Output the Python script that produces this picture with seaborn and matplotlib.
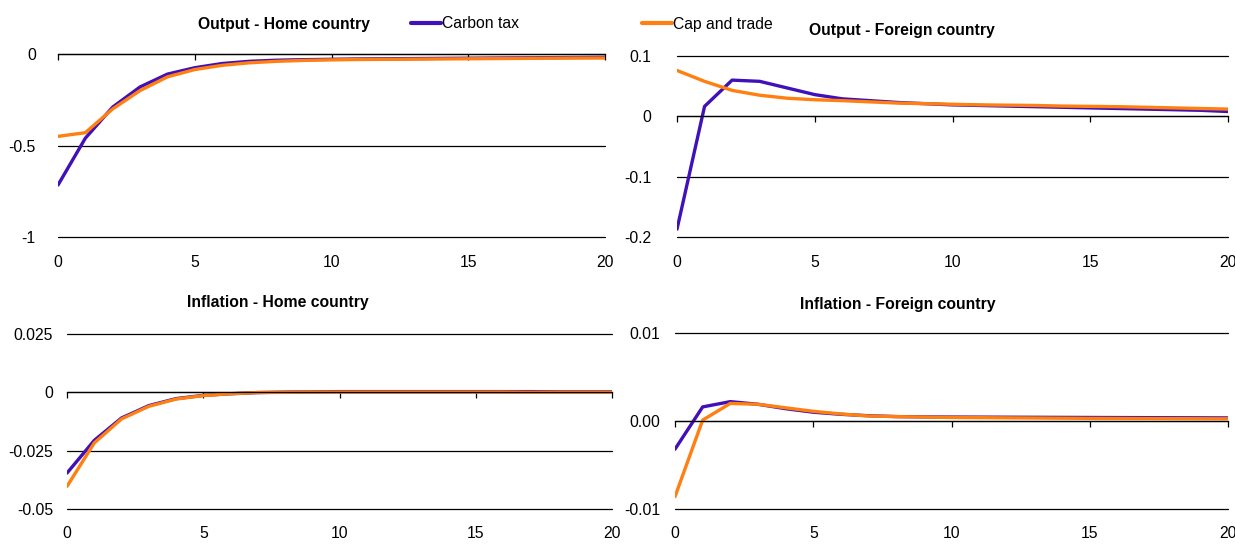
import numpy as np
import pandas as pd
import matplotlib
matplotlib.use('Agg')
import matplotlib.pyplot as plt
import seaborn as sns

sns.set_style('white')
plt.rcParams['font.family'] = ['Liberation Sans', 'DejaVu Sans']
plt.rcParams['font.size'] = 11.3
plt.rcParams['text.color'] = 'black'
plt.rcParams['xtick.color'] = 'black'
plt.rcParams['ytick.color'] = 'black'

periods = list(range(21))
policies = ['Carbon tax', 'Cap and trade']
colors = {'Carbon tax': '#4010B8', 'Cap and trade': '#FF7F10'}

# output, home country
out_home_tax = [-0.716, -0.46, -0.29, -0.18, -0.11, -0.075, -0.052, -0.04, -0.034, -0.031, -0.029,
                -0.027, -0.026, -0.025, -0.024, -0.023, -0.022, -0.021, -0.020, -0.019, -0.018]
out_home_cap = [-0.45, -0.43, -0.30, -0.20, -0.125, -0.085, -0.062, -0.048, -0.040, -0.035, -0.032,
                -0.030, -0.029, -0.028, -0.027, -0.026, -0.025, -0.024, -0.023, -0.022, -0.022]
# output, foreign country
out_for_tax = [-0.187, 0.0165, 0.060, 0.058, 0.047, 0.036, 0.029, 0.026, 0.023, 0.021, 0.019,
               0.018, 0.017, 0.016, 0.015, 0.014, 0.013, 0.012, 0.011, 0.010, 0.008]
out_for_cap = [0.076, 0.058, 0.043, 0.035, 0.030, 0.0275, 0.026, 0.024, 0.022, 0.021, 0.020,
               0.019, 0.0185, 0.018, 0.017, 0.0165, 0.016, 0.015, 0.014, 0.013, 0.012]
# inflation, home country
inf_home_tax = [-0.0346, -0.0206, -0.011, -0.0057, -0.0027, -0.0013, -0.0006, -0.0001, 0.0001, 0.0002, 0.0003,
                0.0003, 0.0003, 0.0003, 0.0003, 0.0003, 0.0003, 0.0003, 0.0002, 0.0002, 0.0002]
inf_home_cap = [-0.0403, -0.0217, -0.0114, -0.006, -0.0029, -0.0014, -0.0006, -0.0001, 0.0, 0.0001, 0.0001,
                0.0001, 0.0001, 0.0001, 0.0001, 0.0001, 0.0001, 0.0, 0.0, 0.0, 0.0]
# inflation, foreign country
inf_for_tax = [-0.0032, 0.0016, 0.0022, 0.0019, 0.0014, 0.0010, 0.00076, 0.0006, 0.0005, 0.00047, 0.00045,
               0.00044, 0.00043, 0.00042, 0.00041, 0.0004, 0.00039, 0.00038, 0.00037, 0.00036, 0.00035]
inf_for_cap = [-0.0086, 0.0001, 0.0020, 0.0019, 0.0015, 0.0011, 0.0008, 0.00057, 0.0005, 0.00045, 0.0004,
               0.00038, 0.00036, 0.00034, 0.00032, 0.0003, 0.00029, 0.00028, 0.00027, 0.00026, 0.00025]

titles = ['Output - Home country', 'Output - Foreign country',
          'Inflation - Home country', 'Inflation - Foreign country']
yticks = [[-1, -0.5, 0], [-0.2, -0.1, 0, 0.1], [-0.05, -0.025, 0, 0.025], [-0.01, 0, 0.01]]
ylabels = [['-1', '-0.5', '0'], ['-0.2', '-0.1', '0', '0.1'],
           ['-0.05', '-0.025', '0', '0.025'], ['-0.01', '0.00', '0.01']]
series = [(out_home_tax, out_home_cap), (out_for_tax, out_for_cap),
          (inf_home_tax, inf_home_cap), (inf_for_tax, inf_for_cap)]

W, H = 1235, 544
# pixel boxes: left, top, right, bottom
boxes = [(58, 54, 605, 237), (677, 56, 1228, 237), (67, 334, 612, 509), (675, 333, 1228, 509)]
title_pos = [(284, 25), (902, 30), (278, 302), (898, 304)]
ypads = [12.5, 15, 6.5, 7]
xpads = [13, 13, 12.5, 12.5]

fig = plt.figure(figsize=(W / 100, H / 100), dpi=100)

for i in range(4):
    l, t, r, b = boxes[i]
    ax = fig.add_axes([l / W, 1 - b / H, (r - l) / W, (b - t) / H])
    tax, cap = series[i]
    df = pd.DataFrame({'t': periods * 2,
                       'value': tax + cap,
                       'policy': ['Carbon tax'] * 21 + ['Cap and trade'] * 21})
    sns.lineplot(data=df, x='t', y='value', hue='policy', hue_order=policies,
                 palette=colors, linewidth=2.4, ax=ax, legend=False)
    ax.set_xlim(0, 20)
    ax.set_ylim(yticks[i][0], yticks[i][-1])
    ax.set_yticks(yticks[i])
    ax.set_yticklabels(ylabels[i])
    ax.set_xticks([0, 5, 10, 15, 20])
    for y in yticks[i]:
        ax.axhline(y, color='black', linewidth=0.9, zorder=0, clip_on=False)
    for s in ['left', 'right', 'bottom']:
        ax.spines[s].set_visible(False)
    ax.spines['top'].set_position(('data', 0))
    ax.spines['top'].set_color('black')
    ax.spines['top'].set_linewidth(0.9)
    ax.tick_params(axis='x', bottom=False, top=True, labelbottom=True, labeltop=False,
                   direction='in', length=4, width=0.9, color='black', pad=xpads[i])
    ax.tick_params(axis='y', left=False, pad=ypads[i])
    ax.set_xlabel('')
    ax.set_ylabel('')
    fig.text(title_pos[i][0] / W, 1 - title_pos[i][1] / H, titles[i],
             ha='center', va='center', fontweight='bold', fontsize=11.3)

handles = [plt.Line2D([], [], color=colors[p], linewidth=3) for p in policies]
fig.legend(handles, policies, loc='center left', bbox_to_anchor=(411 / W, 1 - 24 / H),
           ncol=2, frameon=False, borderpad=0, borderaxespad=0, handlelength=1.9,
           handletextpad=0.1, columnspacing=7.8, fontsize=11.3)

fig.savefig('out.png', dpi=100)
